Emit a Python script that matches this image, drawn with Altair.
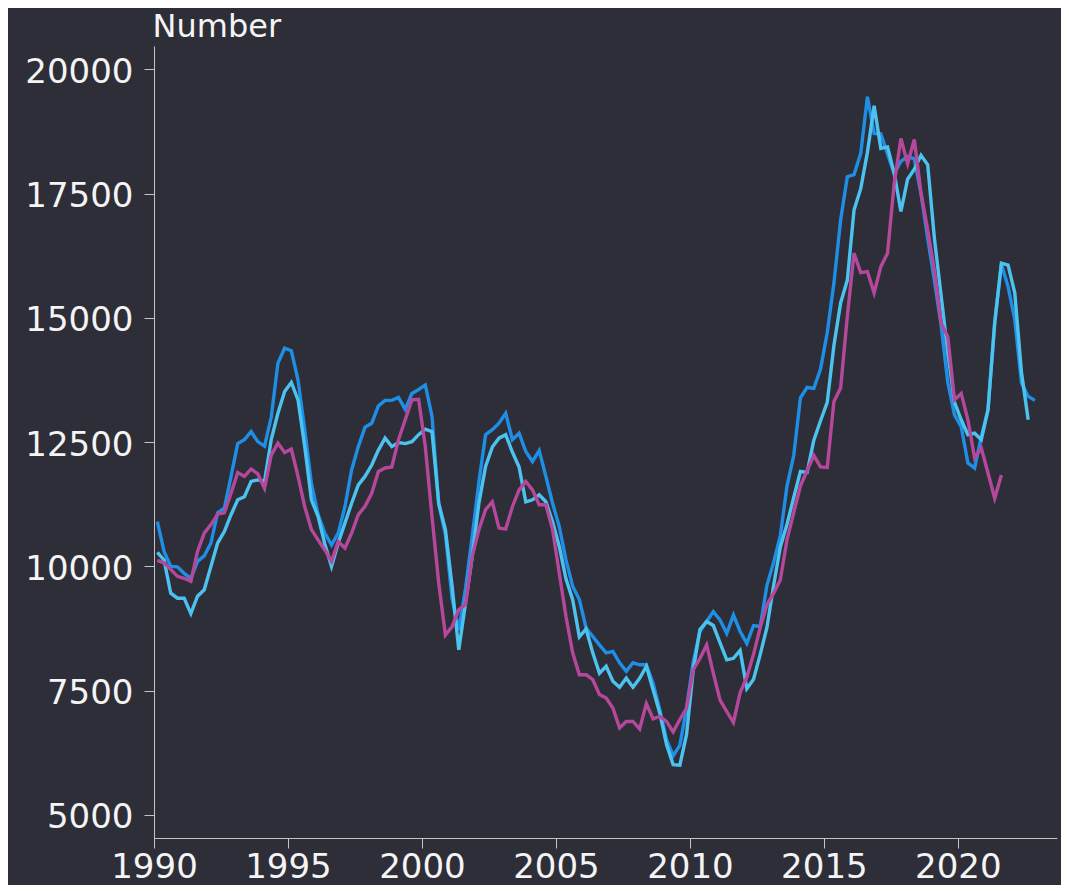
import altair as alt
import pandas as pd

# Quarterly series, first quarter 1990Q1
start_year = 1990

dark_blue = [
    10900, 10300, 10000, 9990, 9860, 9760, 10100, 10210, 10470, 11080,
    11170, 11810, 12470, 12550, 12710, 12510, 12420, 13000, 14090, 14390,
    14340, 13750, 12750, 11670, 11040, 10670, 10430, 10670, 11200, 11940,
    12410, 12800, 12880, 13230, 13340, 13340, 13400, 13160, 13480, 13560,
    13650, 13020, 11250, 10650, 9350, 8720, 9550, 10600, 11700, 12650,
    12750, 12880, 13080, 12550, 12680, 12310, 12110, 12330, 11810, 11270,
    10800, 10130, 9600, 9330, 8760, 8590, 8420, 8260, 8290, 8060,
    7890, 8060, 8020, 8020, 7650, 7120, 6520, 6190, 6400, 7150,
    8080, 8690, 8890, 9090, 8920, 8650, 9020, 8690, 8450, 8810,
    8790, 9620, 10080, 10620, 11620, 12230, 13390, 13600, 13580, 13970,
    14700, 15700, 16970, 17840, 17880, 18310, 19450, 18710, 18700, 18300,
    17900, 18150, 18250, 18200, 17500, 16600, 15750, 14850, 13700, 13050,
    12810, 12080, 11980, 12610, 13150, 14900, 16080, 15630, 14960, 13690,
    13420, 13340,
]

light_blue = [
    10280, 10130, 9460, 9360, 9360, 9050, 9400, 9530, 10000, 10470,
    10700, 11040, 11340, 11400, 11710, 11740, 11710, 12550, 13080, 13520,
    13700, 13350, 12410, 11340, 11000, 10450, 10000, 10470, 10870, 11270,
    11640, 11810, 12040, 12340, 12580, 12410, 12490, 12470, 12510, 12650,
    12760, 12710, 11270, 10740, 9600, 8320, 9260, 10200, 11270, 12010,
    12400, 12580, 12650, 12300, 12000, 11300, 11340, 11440, 11300, 10900,
    10400, 9750, 9330, 8580, 8740, 8260, 7850, 7990, 7690, 7570,
    7750, 7570, 7750, 7990, 7520, 7050, 6420, 6010, 6000, 6620,
    7920, 8730, 8890, 8810, 8460, 8120, 8150, 8310, 7540, 7730,
    8230, 8770, 9620, 10390, 10850, 11390, 11910, 11890, 12540, 12930,
    13300, 14450, 15300, 15760, 17170, 17600, 18330, 19270, 18410, 18440,
    17910, 17140, 17790, 17990, 18270, 18080, 16600, 15450, 14300, 13300,
    12950, 12650, 12680, 12550, 13150, 14900, 16100, 16060, 15500, 13900,
    12950,
]

magenta = [
    10120, 10070, 9940, 9800, 9760, 9700, 10300, 10670, 10840, 11050,
    11080, 11470, 11890, 11810, 11960, 11860, 11570, 12240, 12480, 12290,
    12360, 11810, 11200, 10740, 10530, 10330, 10100, 10500, 10370, 10670,
    11040, 11210, 11470, 11910, 11980, 12000, 12550, 12950, 13350, 13360,
    12410, 11000, 9670, 8620, 8790, 9130, 9230, 10200, 10740, 11140,
    11300, 10770, 10750, 11200, 11540, 11710, 11540, 11240, 11240, 10740,
    9860, 8990, 8260, 7820, 7820, 7720, 7420, 7350, 7150, 6750,
    6880, 6880, 6730, 7240, 6930, 6980, 6880, 6670, 6920, 7150,
    7920, 8150, 8420, 7850, 7310, 7080, 6860, 7460, 7770, 8230,
    8770, 9230, 9460, 9730, 10540, 11080, 11620, 11930, 12230, 12000,
    11990, 13320, 13590, 15030, 16300, 15910, 15930, 15500, 16030, 16300,
    17710, 18610, 18100, 18590, 17510, 16770, 15960, 14890, 14620, 13350,
    13480, 12950, 12180, 12380, 11880, 11370, 11840,
]

series_names = ["dark", "light", "magenta"]
series_colors = ["#1f8fe6", "#4cc3ef", "#b5489b"]
x_ticks = [1990, 1995, 2000, 2005, 2010, 2015, 2020]
y_ticks = [5000, 7500, 10000, 12500, 15000, 17500, 20000]
bg = "#2e2e38"


def quarter_frame(name, values):
    rows = []
    for i, v in enumerate(values):
        year = start_year + i // 4
        q = i % 4 + 1
        rows.append({
            "series": name,
            "quarter": f"{year}Q{q}",
            "t": year + (q - 1) / 4 + 0.125,
            "value": v,
        })
    return pd.DataFrame(rows)


frames = [quarter_frame(n, v) for n, v in zip(series_names, [dark_blue, light_blue, magenta])]

x_enc = alt.X(
    "t:Q",
    scale=alt.Scale(domain=[1990, 2023.7], nice=False, zero=False),
    axis=alt.Axis(values=x_ticks, format="d", title=None, labelPadding=2,
                  labelFlush=False, labelOverlap=False),
)
y_enc = alt.Y(
    "value:Q",
    scale=alt.Scale(domain=[4535, 20470], nice=False, zero=False),
    axis=alt.Axis(
        values=y_ticks,
        format="d",
        title="Number",
        titleAngle=0,
        titleAlign="left",
        titleBaseline="alphabetic",
        titleX=-2,
        titleY=-10,
        labelPadding=11,
        labelOffset=3,
        labelFlush=False,
        labelOverlap=False,
    ),
)

layers = []
for df, color in zip(frames, series_colors):
    layers.append(
        alt.Chart(df)
        .mark_line(color=color, strokeWidth=3.4)
        .encode(x=x_enc, y=y_enc)
    )

chart = (
    alt.layer(*layers)
    .properties(
        width=903,
        height=792,
        background=bg,
        autosize=alt.AutoSizeParams(type="none"),
        padding={"left": 146, "top": 38, "right": 4, "bottom": 47},
    )
    .configure_view(strokeWidth=0)
    .configure_axis(
        grid=False,
        domainColor="#c4c4c4",
        tickColor="#c4c4c4",
        domainWidth=1,
        tickWidth=1,
        tickSize=10,
        labelColor="#f4f4f4",
        labelFont="DejaVu Sans",
        labelFontSize=34,
        labelFontWeight="normal",
        titleColor="#f4f4f4",
        titleFont="DejaVu Sans",
        titleFontSize=32,
        titleFontWeight="normal",
    )
)

chart.save("out.html", embed_options={"renderer": "svg", "actions": False})
